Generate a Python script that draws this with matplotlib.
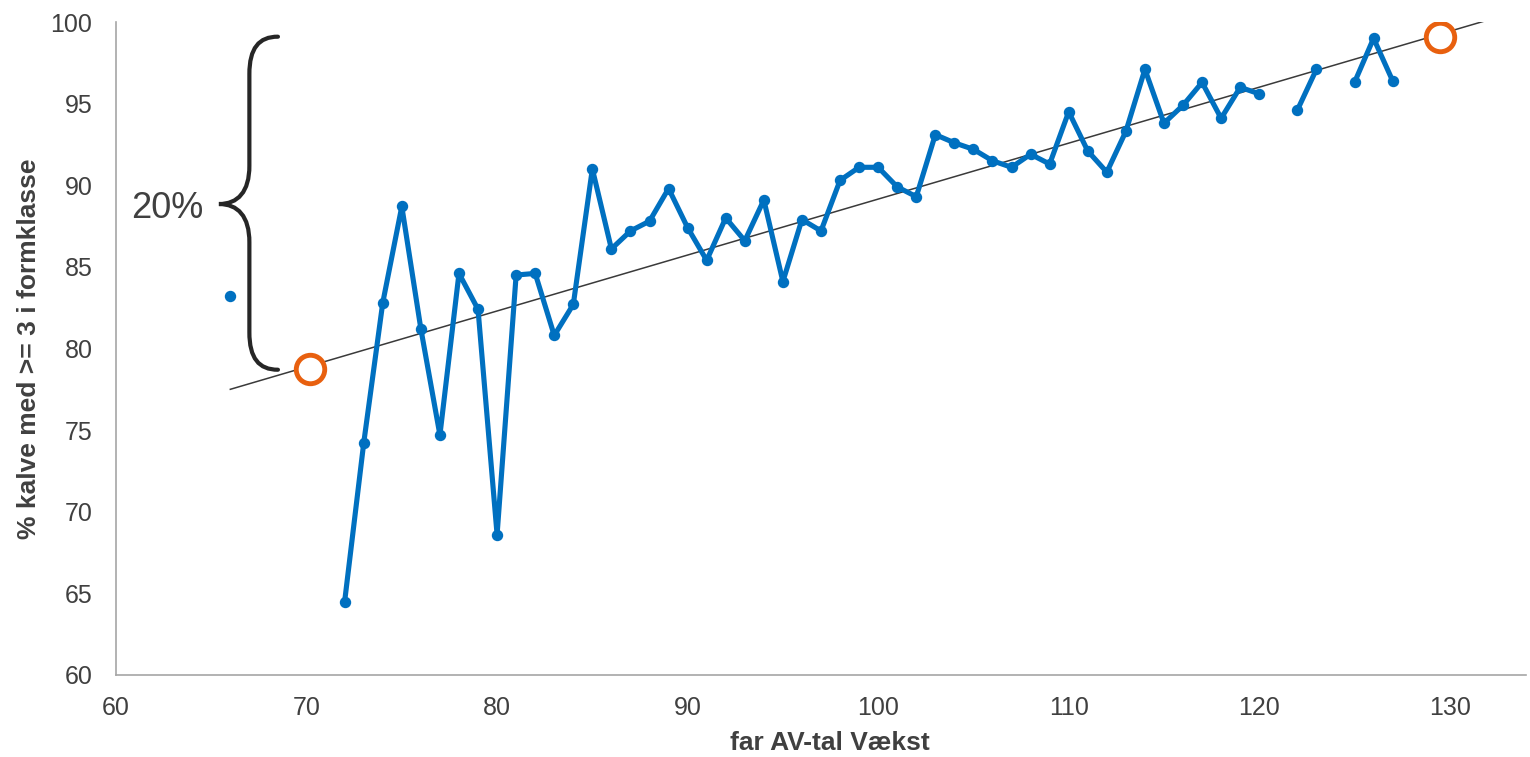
import numpy as np
import matplotlib
matplotlib.use("Agg")
import matplotlib.pyplot as plt
from matplotlib.path import Path
from matplotlib.patches import PathPatch

plt.rcParams['font.family'] = ['Liberation Sans', 'DejaVu Sans']

# ---- data ----
far_av = list(range(66, 128))
pct = [83.2, np.nan, np.nan, np.nan, np.nan, np.nan,          # 66-71
       64.5, 74.2, 82.8, 88.7, 81.2, 74.7, 84.6, 82.4, 68.6,   # 72-80
       84.5, 84.6, 80.8, 82.7, 91.0, 86.1, 87.2, 87.8, 89.8, 87.4,  # 81-90
       85.4, 88.0, 86.6, 89.1, 84.1, 87.9, 87.2, 90.3, 91.1, 91.1,  # 91-100
       89.9, 89.3, 93.1, 92.6, 92.2, 91.5, 91.1, 91.9, 91.3, 94.5,  # 101-110
       92.1, 90.8, 93.3, 97.1, 93.8, 94.9, 96.3, 94.1, 96.0, 95.6,  # 111-120
       np.nan, 94.6, 97.1, np.nan, 96.3, 99.0, 96.4]               # 121-127

trend_x = [66, 131.8]
trend_y = [77.5, 100.05]

highlight_x = [70.2, 129.5]
highlight_y = [78.75, 99.1]

brace_label = "20%"
x_ticks = [60, 70, 80, 90, 100, 110, 120, 130]
y_ticks = [60, 65, 70, 75, 80, 85, 90, 95, 100]

# ---- figure ----
fig = plt.figure(figsize=(15.3, 7.57), dpi=100)
ax = fig.add_axes([116/1530, 1-675/757, (1526-116)/1530, (675-22)/757])

ax.plot(trend_x, trend_y, color='#3a3a3a', lw=1.1, zorder=2)
ax.plot(far_av, pct, color='#0070C0', lw=3.7, marker='o', ms=7.2,
        solid_joinstyle='round', zorder=3)
ax.plot(highlight_x, highlight_y, ls='none', marker='o', ms=20.5,
        mfc='white', mec='#E8600F', mew=3.5, zorder=4)

# curly brace
verts = [(68.5, 99.1), (67.5, 99.1), (67.0, 98.4), (67.0, 96.8),
         (67.0, 91.2),
         (67.0, 89.6), (66.4, 88.85), (65.4, 88.85),
         (66.4, 88.85), (67.0, 88.1), (67.0, 86.5),
         (67.0, 81.0),
         (67.0, 79.4), (67.5, 78.7), (68.5, 78.7)]
codes = [Path.MOVETO, Path.CURVE4, Path.CURVE4, Path.CURVE4,
         Path.LINETO,
         Path.CURVE4, Path.CURVE4, Path.CURVE4,
         Path.CURVE4, Path.CURVE4, Path.CURVE4,
         Path.LINETO,
         Path.CURVE4, Path.CURVE4, Path.CURVE4]
ax.add_patch(PathPatch(Path(verts, codes), fc='none', ec='#262626', lw=3.0,
                       capstyle='round', zorder=2))
ax.text(64.6, 88.6, brace_label, ha='right', va='center', fontsize=26,
        color='#404040')

ax.set_xlim(60, 134)
ax.set_ylim(60, 100)
ax.set_xticks(x_ticks)
ax.set_yticks(y_ticks)
ax.tick_params(axis='both', length=0, labelsize=18, labelcolor='#404040')
ax.tick_params(axis='y', pad=17)
ax.tick_params(axis='x', pad=15)
for s in ['top', 'right']:
    ax.spines[s].set_visible(False)
for s in ['left', 'bottom']:
    ax.spines[s].set_color('#a6a6a6')
    ax.spines[s].set_linewidth(1.2)

ax.set_xlabel('far AV-tal Vækst', fontsize=19, fontweight='bold',
              color='#404040')
ax.set_ylabel('% kalve med >= 3 i formklasse', fontsize=19,
              fontweight='bold', color='#404040')
ax.xaxis.set_label_coords(0.506, -0.085)
ax.yaxis.set_label_coords(-0.053, 0.5)

fig.savefig('out.png', dpi=100)
